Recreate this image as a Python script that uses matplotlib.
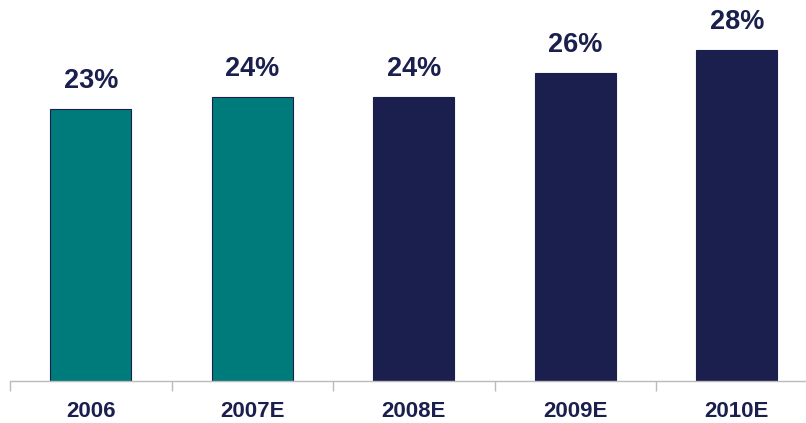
import matplotlib.pyplot as plt

plt.rcParams['font.family'] = ['Liberation Sans', 'DejaVu Sans']

years = ['2006', '2007E', '2008E', '2009E', '2010E']
shares = [23, 24, 24, 26, 28]
labels = ['23%', '24%', '24%', '26%', '28%']

teal = '#007B7B'
navy = '#1A1F4E'
colors = [teal, teal, navy, navy, navy]

fig = plt.figure(figsize=(8.06, 4.23), dpi=100)
# axis runs slightly past the right edge of the figure
ax = fig.add_axes([10 / 806, 42.5 / 423, 807.5 / 806, 354.6 / 423])

x = range(len(years))
bars = ax.bar(x, shares, width=0.5, color=colors, edgecolor=navy, linewidth=0.8)

# value labels above each bar
for b, lab in zip(bars, labels):
    ax.annotate(lab, (b.get_x() + b.get_width() / 2, b.get_height()),
                xytext=(0, 15), textcoords='offset pixels',
                ha='center', va='bottom', fontsize=19.5, fontweight='bold', color=navy)

ax.set_xlim(-0.5, 4.5)
ax.set_ylim(0, 30)

for side in ['top', 'right', 'left']:
    ax.spines[side].set_visible(False)
ax.spines['bottom'].set_color('#BBBBBB')
ax.spines['bottom'].set_linewidth(1.0)

ax.set_yticks([])
ax.set_xticks(list(x))
ax.set_xticklabels(years, fontsize=16, fontweight='bold', color=navy)
ax.tick_params(axis='x', which='major', length=0, pad=15)
# separator ticks between categories
ax.set_xticks([i - 0.5 for i in range(len(years) + 1)], minor=True)
ax.tick_params(axis='x', which='minor', length=7, color='#BBBBBB', width=1.0)

fig.savefig('out.png', dpi=100)
